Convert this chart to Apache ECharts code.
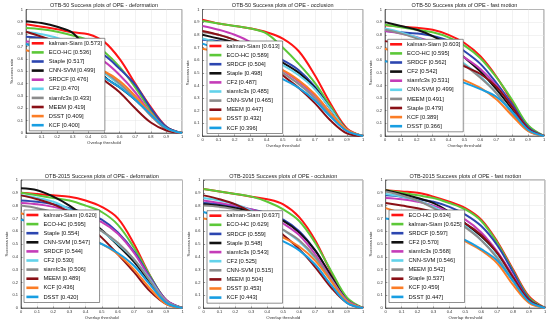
<!DOCTYPE html>
<html><head><meta charset="utf-8">
<script src="https://cdn.jsdelivr.net/npm/echarts@6/dist/echarts.min.js"></script>
<style>html,body{margin:0;padding:0;background:#fff}#c{width:550px;height:325px}</style>
</head><body><div id="c"></div>
<script>
// ---- data ----
const thresholds = [0, 0.1, 0.2, 0.3, 0.4, 0.5, 0.6, 0.7, 0.8, 0.9, 1];
const rankColors = ['#ff1414', '#5cc838', '#2c46b0', '#111111', '#c43cb8', '#62d2ea', '#8c8c8c', '#8a1016', '#fb7d26', '#189ee2'];
const titles = [
  'OTB-50 Success plots of OPE - deformation',
  'OTB-50 Success plots of OPE - occlusion',
  'OTB-50 Success plots of OPE - fast motion',
  'OTB-2015 Success plots of OPE - deformation',
  'OTB-2015 Success plots of OPE - occlusion',
  'OTB-2015 Success plots of OPE - fast motion'
];

const p1Names = ['kalman-Siam [0.573]', 'ECO-HC [0.536]', 'Staple [0.517]', 'CNN-SVM [0.499]', 'SRDCF [0.476]', 'CF2 [0.470]', 'siamfc3s [0.433]', 'MEEM [0.419]', 'DSST [0.409]', 'KCF [0.400]'];
const p1Values = [
  [0.88, 0.86, 0.84, 0.815, 0.80, 0.74, 0.60, 0.40, 0.21, 0.05, 0],
  [0.85, 0.84, 0.82, 0.79, 0.75, 0.66, 0.535, 0.37, 0.18, 0.035, 0],
  [0.78, 0.77, 0.75, 0.72, 0.68, 0.63, 0.52, 0.39, 0.20, 0.05, 0],
  [0.905, 0.89, 0.86, 0.81, 0.66, 0.46, 0.37, 0.27, 0.15, 0.04, 0],
  [0.74, 0.73, 0.71, 0.68, 0.64, 0.58, 0.47, 0.33, 0.16, 0.03, 0],
  [0.82, 0.80, 0.77, 0.72, 0.62, 0.49, 0.39, 0.28, 0.15, 0.035, 0],
  [0.72, 0.71, 0.68, 0.64, 0.58, 0.50, 0.40, 0.28, 0.14, 0.03, 0],
  [0.82, 0.78, 0.73, 0.66, 0.55, 0.43, 0.33, 0.20, 0.085, 0.02, 0],
  [0.67, 0.64, 0.61, 0.58, 0.54, 0.50, 0.42, 0.30, 0.16, 0.04, 0],
  [0.72, 0.68, 0.63, 0.58, 0.52, 0.45, 0.37, 0.27, 0.15, 0.04, 0]
];

const p2Names = ['kalman-Siam [0.613]', 'ECO-HC [0.589]', 'SRDCF [0.504]', 'Staple [0.498]', 'CF2 [0.487]', 'siamfc3s [0.485]', 'CNN-SVM [0.465]', 'MEEM [0.447]', 'DSST [0.432]', 'KCF [0.396]'];
const p2Values = [
  [0.92, 0.89, 0.87, 0.85, 0.82, 0.77, 0.67, 0.48, 0.25, 0.06, 0],
  [0.91, 0.89, 0.87, 0.85, 0.81, 0.70, 0.57, 0.42, 0.23, 0.05, 0],
  [0.76, 0.75, 0.73, 0.70, 0.67, 0.60, 0.52, 0.39, 0.21, 0.05, 0],
  [0.80, 0.77, 0.74, 0.70, 0.65, 0.58, 0.50, 0.38, 0.21, 0.05, 0],
  [0.87, 0.84, 0.80, 0.74, 0.64, 0.52, 0.43, 0.32, 0.17, 0.04, 0],
  [0.77, 0.74, 0.71, 0.67, 0.62, 0.56, 0.48, 0.37, 0.21, 0.05, 0],
  [0.82, 0.80, 0.76, 0.70, 0.61, 0.50, 0.41, 0.30, 0.16, 0.04, 0],
  [0.83, 0.80, 0.76, 0.70, 0.60, 0.48, 0.38, 0.26, 0.12, 0.02, 0],
  [0.69, 0.66, 0.62, 0.59, 0.55, 0.52, 0.44, 0.33, 0.18, 0.05, 0],
  [0.73, 0.68, 0.62, 0.56, 0.50, 0.45, 0.38, 0.28, 0.15, 0.04, 0]
];

const p3Names = ['kalman-Siam [0.603]', 'ECO-HC [0.595]', 'SRDCF [0.562]', 'CF2 [0.542]', 'siamfc3s [0.531]', 'CNN-SVM [0.499]', 'MEEM [0.491]', 'Staple [0.479]', 'KCF [0.389]', 'DSST [0.366]'];
const p3Values = [
  [0.875, 0.865, 0.855, 0.84, 0.80, 0.735, 0.63, 0.47, 0.27, 0.08, 0],
  [0.88, 0.86, 0.84, 0.82, 0.78, 0.715, 0.615, 0.465, 0.285, 0.085, 0],
  [0.83, 0.82, 0.81, 0.79, 0.75, 0.67, 0.57, 0.42, 0.25, 0.07, 0],
  [0.90, 0.87, 0.84, 0.79, 0.72, 0.62, 0.51, 0.37, 0.21, 0.05, 0],
  [0.83, 0.81, 0.78, 0.74, 0.69, 0.62, 0.53, 0.40, 0.23, 0.06, 0],
  [0.85, 0.82, 0.78, 0.72, 0.65, 0.57, 0.47, 0.34, 0.19, 0.05, 0],
  [0.84, 0.81, 0.77, 0.71, 0.64, 0.56, 0.46, 0.34, 0.18, 0.04, 0],
  [0.75, 0.73, 0.70, 0.66, 0.61, 0.55, 0.49, 0.39, 0.23, 0.06, 0],
  [0.69, 0.65, 0.60, 0.55, 0.49, 0.44, 0.38, 0.29, 0.16, 0.04, 0],
  [0.59, 0.57, 0.54, 0.50, 0.46, 0.42, 0.37, 0.31, 0.19, 0.05, 0]
];

const p4Names = ['kalman-Siam [0.620]', 'ECO-HC [0.595]', 'Staple [0.554]', 'CNN-SVM [0.547]', 'SRDCF [0.544]', 'CF2 [0.530]', 'siamfc3s [0.506]', 'MEEM [0.489]', 'KCF [0.436]', 'DSST [0.420]'];
const p4Values = [
  [0.90, 0.89, 0.88, 0.87, 0.84, 0.79, 0.70, 0.50, 0.25, 0.06, 0],
  [0.90, 0.88, 0.86, 0.84, 0.80, 0.75, 0.65, 0.47, 0.25, 0.06, 0],
  [0.84, 0.83, 0.81, 0.78, 0.74, 0.69, 0.59, 0.44, 0.24, 0.06, 0],
  [0.935, 0.92, 0.87, 0.80, 0.71, 0.61, 0.49, 0.36, 0.20, 0.05, 0],
  [0.82, 0.81, 0.79, 0.76, 0.72, 0.67, 0.58, 0.43, 0.23, 0.06, 0],
  [0.88, 0.86, 0.83, 0.77, 0.69, 0.60, 0.50, 0.38, 0.22, 0.05, 0],
  [0.80, 0.78, 0.75, 0.71, 0.66, 0.60, 0.51, 0.38, 0.21, 0.05, 0],
  [0.88, 0.85, 0.81, 0.75, 0.66, 0.55, 0.42, 0.28, 0.13, 0.03, 0],
  [0.74, 0.70, 0.66, 0.61, 0.56, 0.50, 0.42, 0.30, 0.15, 0.03, 0],
  [0.69, 0.66, 0.62, 0.58, 0.54, 0.50, 0.43, 0.33, 0.18, 0.04, 0]
];

const p5Names = ['kalman-Siam [0.637]', 'ECO-HC [0.629]', 'SRDCF [0.559]', 'Staple [0.548]', 'siamfc3s [0.543]', 'CF2 [0.525]', 'CNN-SVM [0.515]', 'MEEM [0.504]', 'DSST [0.453]', 'KCF [0.443]'];
const p5Values = [
  [0.93, 0.91, 0.89, 0.87, 0.85, 0.81, 0.71, 0.53, 0.28, 0.07, 0],
  [0.93, 0.91, 0.89, 0.87, 0.83, 0.77, 0.68, 0.51, 0.29, 0.08, 0],
  [0.82, 0.81, 0.79, 0.77, 0.74, 0.69, 0.60, 0.45, 0.25, 0.06, 0],
  [0.81, 0.80, 0.78, 0.76, 0.73, 0.68, 0.59, 0.45, 0.25, 0.06, 0],
  [0.84, 0.82, 0.80, 0.77, 0.73, 0.66, 0.57, 0.42, 0.23, 0.06, 0],
  [0.86, 0.84, 0.81, 0.76, 0.69, 0.61, 0.52, 0.39, 0.22, 0.05, 0],
  [0.80, 0.79, 0.77, 0.73, 0.68, 0.61, 0.53, 0.40, 0.22, 0.05, 0],
  [0.88, 0.85, 0.81, 0.75, 0.67, 0.57, 0.46, 0.32, 0.16, 0.04, 0],
  [0.70, 0.68, 0.66, 0.63, 0.59, 0.55, 0.48, 0.37, 0.21, 0.05, 0],
  [0.75, 0.71, 0.67, 0.62, 0.57, 0.52, 0.45, 0.34, 0.18, 0.04, 0]
];

const p6Names = ['ECO-HC [0.634]', 'kalman-Siam [0.625]', 'SRDCF [0.597]', 'CF2 [0.570]', 'siamfc3s [0.568]', 'CNN-SVM [0.546]', 'MEEM [0.542]', 'Staple [0.537]', 'KCF [0.459]', 'DSST [0.447]'];
const p6Values = [
  [0.92, 0.91, 0.90, 0.87, 0.83, 0.78, 0.69, 0.52, 0.30, 0.09, 0],
  [0.92, 0.90, 0.88, 0.86, 0.82, 0.77, 0.68, 0.51, 0.29, 0.08, 0],
  [0.88, 0.87, 0.85, 0.83, 0.79, 0.73, 0.64, 0.49, 0.28, 0.07, 0],
  [0.92, 0.89, 0.86, 0.82, 0.75, 0.66, 0.56, 0.43, 0.24, 0.06, 0],
  [0.86, 0.85, 0.83, 0.80, 0.75, 0.69, 0.59, 0.44, 0.25, 0.06, 0],
  [0.89, 0.87, 0.84, 0.79, 0.72, 0.64, 0.53, 0.40, 0.22, 0.05, 0],
  [0.91, 0.88, 0.84, 0.78, 0.71, 0.63, 0.53, 0.39, 0.21, 0.05, 0],
  [0.82, 0.80, 0.78, 0.75, 0.71, 0.66, 0.57, 0.43, 0.24, 0.06, 0],
  [0.78, 0.74, 0.70, 0.65, 0.59, 0.52, 0.45, 0.35, 0.18, 0.04, 0],
  [0.70, 0.68, 0.65, 0.62, 0.58, 0.53, 0.46, 0.37, 0.21, 0.05, 0]
];

// ---- layout ----
const panelNames = [p1Names, p2Names, p3Names, p4Names, p5Names, p6Names];
const panelValues = [p1Values, p2Values, p3Values, p4Values, p5Values, p6Values];
const grids = [
  {left: 26, top: 9.5, width: 156, height: 123.5},
  {left: 202.5, top: 9.5, width: 160.5, height: 126.5},
  {left: 385, top: 9.5, width: 159, height: 126.5},
  {left: 21, top: 180, width: 161.5, height: 128},
  {left: 203.5, top: 180, width: 159.5, height: 128},
  {left: 385.7, top: 180, width: 159.3, height: 128}
];
const legendPos = [
  {left: 29.3, top: 38.3},
  {left: 207, top: 41},
  {left: 387.7, top: 39.3},
  {left: 24, top: 210},
  {left: 207, top: 210.7},
  {left: 389, top: 210}
];
const FONT = 'Liberation Sans, Arial, Helvetica, sans-serif';

const option = {
  animation: false,
  backgroundColor: '#fff',
  title: [], grid: [], xAxis: [], yAxis: [], legend: [], series: []
};

grids.forEach((g, p) => {
  option.grid.push({left: g.left, top: g.top, width: g.width, height: g.height,
    show: true, borderColor: '#333', borderWidth: 0.6, containLabel: false});
  option.title.push({text: titles[p], left: g.left + g.width / 2, textAlign: 'center',
    top: g.top - 7, padding: 0,
    textStyle: {fontSize: 5.5, fontWeight: 'normal', color: '#222', fontFamily: FONT}});
  option.xAxis.push({gridIndex: p, type: 'value', min: 0, max: 1, interval: 0.1,
    name: 'Overlap threshold', nameLocation: 'middle', nameGap: 8,
    nameTextStyle: {fontSize: 4.3, color: '#333', fontFamily: FONT},
    axisLine: {show: true, lineStyle: {color: '#333', width: 0.6}},
    axisTick: {show: true, inside: true, length: 1.5, lineStyle: {color: '#333', width: 0.5}},
    axisLabel: {fontSize: 4, margin: 2, color: '#333', fontFamily: FONT},
    splitLine: {show: true, lineStyle: {color: '#e4e4e4', width: 0.5}}});
  option.yAxis.push({gridIndex: p, type: 'value', min: 0, max: 1, interval: 0.1,
    name: 'Success rate', nameLocation: 'middle', nameGap: 10,
    nameTextStyle: {fontSize: 4.3, color: '#333', fontFamily: FONT},
    axisLine: {show: true, lineStyle: {color: '#333', width: 0.6}},
    axisTick: {show: true, inside: true, length: 1.5, lineStyle: {color: '#333', width: 0.5}},
    axisLabel: {fontSize: 4, margin: 3, color: '#333', fontFamily: FONT},
    splitLine: {show: true, lineStyle: {color: '#e4e4e4', width: 0.5}}});
  const names = panelNames[p];
  option.legend.push({
    data: names.map(n => p + '|' + n),
    formatter: n => n.split('|')[1],
    orient: 'vertical', left: legendPos[p].left, top: legendPos[p].top,
    icon: 'rect', itemWidth: 12, itemHeight: 2.6, itemGap: 3.1,
    padding: [2, 3, 2.6, 2.4], backgroundColor: '#fff', borderColor: '#444', borderWidth: 0.6,
    selectedMode: false, z: 10,
    textStyle: {fontSize: 5.8, lineHeight: 6, color: '#111', fontFamily: FONT}
  });
  names.forEach((n, i) => {
    option.series.push({
      type: 'line', name: p + '|' + n, xAxisIndex: p, yAxisIndex: p,
      data: thresholds.map((t, k) => [t, panelValues[p][i][k]]),
      showSymbol: false, smooth: 0.35, color: rankColors[i],
      lineStyle: {width: 2, color: rankColors[i]}, z: 2
    });
  });
});

const chart = echarts.init(document.getElementById('c'), null, {renderer: 'canvas'});
chart.setOption(option);
</script></body></html>
